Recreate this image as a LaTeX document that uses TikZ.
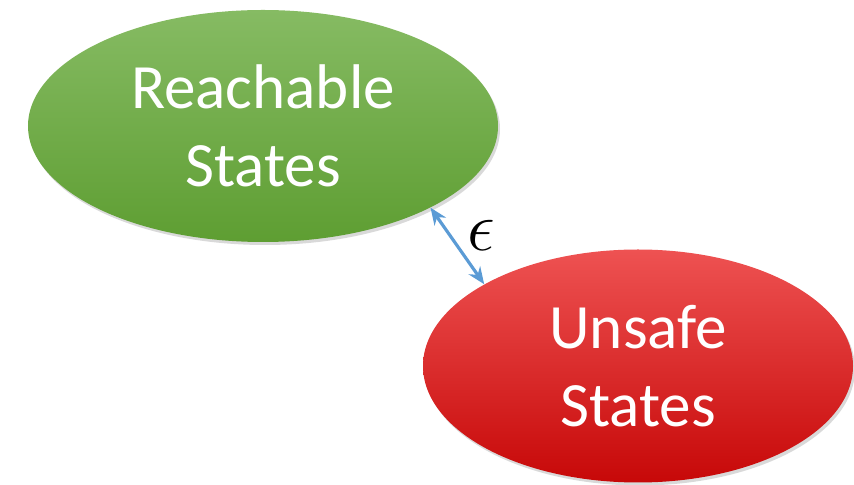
\documentclass[tikz,border=0pt]{standalone}
\usepackage{fontspec}
\newfontfamily\labelfont{Carlito}
\usetikzlibrary{arrows.meta, shadows, shapes.geometric}
\definecolor{GreenTop}{HTML}{86BB63}
\definecolor{GreenBot}{HTML}{5E9E32}
\definecolor{RedTop}{HTML}{EE5252}
\definecolor{RedMid}{HTML}{F22B2B}
\definecolor{RedBot}{HTML}{C70808}
\definecolor{LinkBlue}{HTML}{5B9BD5}
\tikzset{
  setnode/.style={ellipse, inner sep=0pt, align=center, text=white,
    font=\labelfont\fontsize{35.9}{44.4}\selectfont,
    drop shadow={shadow xshift=0.04cm, shadow yshift=-0.06cm, opacity=0.15, fill=black}},
  greenset/.style={setnode, top color=GreenTop, bottom color=GreenBot,
    minimum width=9.4cm, minimum height=4.64cm},
  redset/.style={setnode, top color=RedTop, middle color=RedMid, bottom color=RedBot,
    minimum width=8.6cm, minimum height=4.66cm},
  linkarrow/.style={{Stealth[length=3.4mm, width=2.8mm]}-{Stealth[length=3.4mm, width=2.8mm]}, line width=1.8pt, draw=LinkBlue}
}
\begin{document}
\begin{tikzpicture}
\useasboundingbox (0,0) rectangle (17.08,9.70);
\node[greenset] (reach) at (5.26,7.18) {Reachable\\States};
\node[redset] (unsafe) at (12.76,2.38) {Unsafe\\States};
\draw[linkarrow] (reach.-26) -- (unsafe.152)
  node[pos=0.36, right=3pt, font=\fontsize{24}{24}\selectfont, scale=1.6] (eps) {$\epsilon$};
\end{tikzpicture}
\end{document}
